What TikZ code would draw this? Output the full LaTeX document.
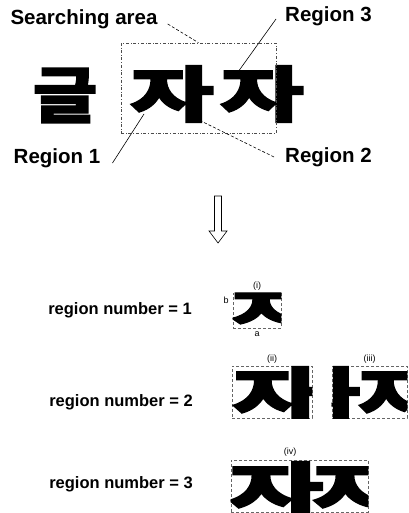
\documentclass[tikz,border=0pt]{standalone}
\usepackage{fontspec}
\setmainfont{Liberation Sans}
\newfontfamily\kr[BoldFeatures={FakeBold=2}]{Noto Sans CJK KR}
\usetikzlibrary{positioning}
\newcommand{\kglyph}[3]{{\fontsize{#1}{#1}\kr\bfseries\scalebox{#2}[1]{#3}}}

\begin{document}
\begin{tikzpicture}[x=1pt,y=-1pt,
    callout/.style={font=\fontsize{20.5}{24}\selectfont\bfseries, inner sep=0pt},
    rowtext/.style={font=\fontsize{16.5}{20}\selectfont\bfseries, inner sep=0pt},
    tag/.style={font=\fontsize{9}{10}\selectfont, inner sep=0pt},
    hangul/.style={inner sep=0pt},
    searchbox/.style={draw=black!70, dash dot, line width=0.6pt, minimum width=155, minimum height=90, inner sep=0pt},
    cropbox/.style={draw=black!60, densely dashed, line width=0.6pt, inner sep=0pt},
    pointer/.style={line width=0.6pt}]
    \useasboundingbox (0,0) rectangle (408,513);
    % the word and the searching area
    \node[hangul] (geul) at (65,95.5) {\kglyph{61}{1.15}{글}};
    \node[hangul] (ja1) at (172,94) {\kglyph{61}{1.5}{자}};
    \node[hangul] (ja2) at (262,94) {\kglyph{61}{1.5}{자}};
    \node[searchbox] (area) at (198.5,88) {};
    % callouts
    \node[callout] (sa) at (84,19) {Searching area};
    \node[callout] (r3) at (328.5,16) {Region 3};
    \node[callout] (r1) at (57,158) {Region 1};
    \node[callout] (r2) at (328.5,157) {Region 2};
    \coordinate (p1) at (144,114);
    \coordinate (p2) at (201,121);
    \coordinate (p3) at (238,72);
    \draw[pointer, densely dashed] ([shift={(10,5)}]sa.east) -- (area.north);
    \draw[pointer] ([shift={(-9,3)}]r3.west) -- (p3);
    \draw[pointer] ([shift={(12,5)}]r1.east) -- (p1);
    \draw[pointer, densely dashed] ([shift={(-11,0)}]r2.west) -- (p2);
    % hollow arrow
    \draw[line width=0.6pt] (214.5,196) -- (214.5,231) -- (209,231) -- (218,243)
        -- (227,231) -- (221.5,231) -- (221.5,196) -- cycle;
    % region number = 1
    \node[rowtext] (n1) at (120,310) {region number = 1};
    \node[cropbox, minimum width=48, minimum height=35] (crop1) at (257,310.5) {};
    \begin{scope}
        \clip (crop1.south west) rectangle (crop1.north east);
        \node[hangul] (c1) at (275,310.5) {\kglyph{46}{2.09}{자}};
    \end{scope}
    \node[tag, above=2pt of crop1] (t1) {(i)};
    \node[tag] (tb) at (226,300) {b};
    \node[tag, below=3pt of crop1] (ta) {a};
    % region number = 2
    \node[rowtext] (n2) at (121,402) {region number = 2};
    \node[cropbox, minimum width=80, minimum height=52] (crop2) at (272,392) {};
    \begin{scope}
        \clip (crop2.south west) rectangle (crop2.north east);
        \node[hangul] (c2) at (277,395) {\kglyph{61}{1.6}{자}};
    \end{scope}
    \node[cropbox, minimum width=75, minimum height=52] (crop3) at (369.5,392) {};
    \begin{scope}
        \clip (crop3.south west) rectangle (crop3.north east);
        \node[hangul] (c3a) at (320,395) {\kglyph{61}{1.44}{자}};
        \node[hangul] (c3b) at (398.5,395) {\kglyph{61}{1.44}{자}};
    \end{scope}
    \node[tag, above=2pt of crop2] (t2) {(ii)};
    \node[tag, above=2pt of crop3] (t3) {(iii)};
    % region number = 3
    \node[rowtext] (n3) at (121,484) {region number = 3};
    \node[cropbox, minimum width=137, minimum height=52] (crop4) at (299.5,486) {};
    \begin{scope}
        \clip (crop4.south west) rectangle (crop4.north east);
        \node[hangul] (c4a) at (276,490) {\kglyph{61}{1.7}{자}};
        \node[hangul] (c4b) at (360,490) {\kglyph{61}{1.7}{자}};
    \end{scope}
    \node[tag] (t4) at (290,452) {(iv)};
\end{tikzpicture}
\end{document}
